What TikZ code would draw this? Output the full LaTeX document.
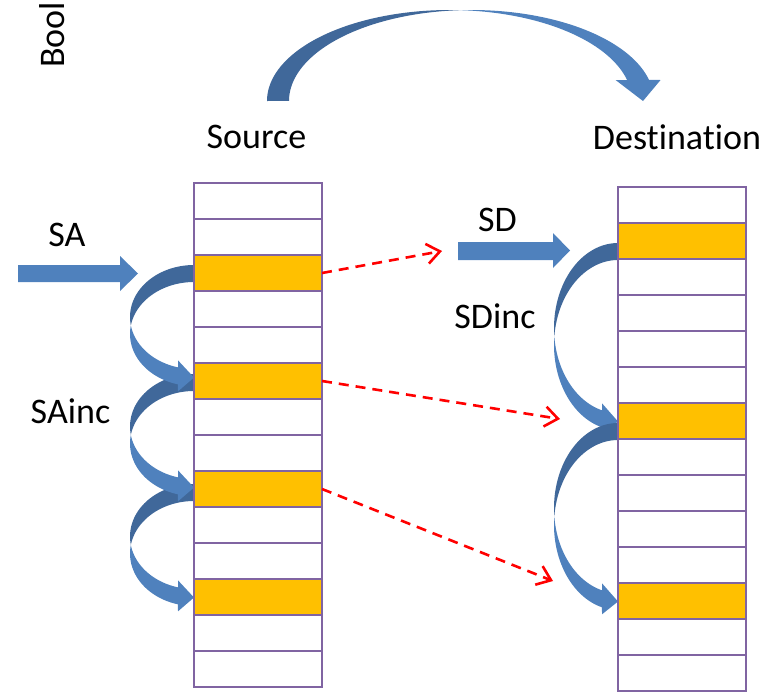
\documentclass[tikz,border=0pt]{standalone}
\usepackage{fontspec}
\setmainfont{Carlito}[Ligatures=NoCommon]
\usetikzlibrary{arrows.meta}

\definecolor{cellline}{RGB}{128,100,162}
\definecolor{hlorange}{RGB}{255,192,0}
\definecolor{blockblue}{RGB}{79,129,189}
\definecolor{blockdark}{RGB}{64,104,154}
\definecolor{linkred}{RGB}{255,0,0}

% Ribbon arrow that leaves a cell to the left and loops back down into a lower cell.
% #1 right x, #2 top y, #3 width, #4 height, #5 band, #6 head width, #7 head length
\newcommand\loopdown[7]{%
  \pgfmathsetmacro\lpR{#4/2-(#5+#6)/4}%
  \pgfmathsetmacro\lpCa{#2+\lpR}%
  \pgfmathsetmacro\lpCb{#2+\lpR+#5}%
  \pgfmathsetmacro\lpAl{asin(#5/(2*\lpR))}%
  \pgfmathsetmacro\lpBe{acos(#7/#3)}%
  \pgfmathsetmacro\lpX{#1-#7}%
  \pgfmathsetmacro\lpYa{\lpCa+\lpR*sin(\lpBe)}%
  \pgfmathsetmacro\lpYb{\lpCb+\lpR*sin(\lpBe)}%
  \pgfmathsetmacro\lpD{(#6-#5)/2}%
  \pgfmathsetmacro\lpTip{#2+#4-#6/2}%
  \fill[blockdark]
    plot[domain=0:1,samples=40,variable=\u]
      ({#1+#3*cos(270-(90+\lpAl)*\u)},{\lpCa+\lpR*sin(270-(90+\lpAl)*\u)})
    -- plot[domain=0:1,samples=40,variable=\u]
      ({#1+#3*cos(180+\lpAl+(90-\lpAl)*\u)},{\lpCb+\lpR*sin(180+\lpAl+(90-\lpAl)*\u)})
    -- cycle;
  \fill[blockblue]
    plot[domain=0:1,samples=40,variable=\u]
      ({#1+#3*cos(180+\lpAl-(\lpAl+\lpBe)*\u)},{\lpCb+\lpR*sin(180+\lpAl-(\lpAl+\lpBe)*\u)})
    -- ({\lpX},{\lpYb+\lpD}) -- ({#1},{\lpTip}) -- ({\lpX},{\lpYa-\lpD}) -- ({\lpX},{\lpYa})
    -- plot[domain=0:1,samples=40,variable=\u]
      ({#1+#3*cos(180-\lpBe+(\lpBe-\lpAl)*\u)},{\lpCa+\lpR*sin(180-\lpBe+(\lpBe-\lpAl)*\u)})
    -- cycle;
}

% Ribbon arrow arching over from left to right.
% #1 left x, #2 bottom y, #3 width, #4 height, #5 band, #6 head width, #7 head length
\newcommand\archright[7]{%
  \pgfmathsetmacro\arR{#3/2-(#5+#6)/4}%
  \pgfmathsetmacro\arCa{#1+\arR}%
  \pgfmathsetmacro\arCb{#1+\arR+#5}%
  \pgfmathsetmacro\arAl{asin(#5/(2*\arR))}%
  \pgfmathsetmacro\arGa{asin(#7/#4)}%
  \pgfmathsetmacro\arY{#2-#7}%
  \pgfmathsetmacro\arXa{\arCa+\arR*cos(\arGa)}%
  \pgfmathsetmacro\arXb{\arCb+\arR*cos(\arGa)}%
  \pgfmathsetmacro\arD{(#6-#5)/2}%
  \pgfmathsetmacro\arTip{#1+#3-#6/2}%
  \fill[blockdark]
    plot[domain=0:1,samples=60,variable=\u]
      ({\arCa+\arR*cos(180+(90+\arAl)*\u)},{#2+#4*sin(180+(90+\arAl)*\u)})
    -- plot[domain=0:1,samples=60,variable=\u]
      ({\arCb+\arR*cos(270-\arAl-(90-\arAl)*\u)},{#2+#4*sin(270-\arAl-(90-\arAl)*\u)})
    -- cycle;
  \fill[blockblue]
    plot[domain=0:1,samples=60,variable=\u]
      ({\arCb+\arR*cos(270-\arAl+(90+\arAl-\arGa)*\u)},{#2+#4*sin(270-\arAl+(90+\arAl-\arGa)*\u)})
    -- ({\arXb+\arD},{\arY}) -- ({\arTip},{#2}) -- ({\arXa-\arD},{\arY}) -- ({\arXa},{\arY})
    -- plot[domain=0:1,samples=60,variable=\u]
      ({\arCa+\arR*cos(360-\arGa-(90-\arGa-\arAl)*\u)},{#2+#4*sin(360-\arGa-(90-\arGa-\arAl)*\u)})
    -- cycle;
}

\tikzset{
  cell/.style={draw=cellline, line width=2.8pt, minimum width=128pt, minimum height=36pt,
               inner sep=0pt, outer sep=0pt},
  lbl/.style={font=\fontsize{36}{40}\selectfont, inner sep=0pt, anchor=base},
  link/.style={draw=linkred, line width=2.6pt, dash pattern=on 10pt off 7pt,
               -{Straight Barb[length=13pt,width=20pt]}},
}

\begin{document}
\begin{tikzpicture}[x=1pt, y=-1pt]
\path[use as bounding box] (0,0) rectangle (771,694);

% copy arrow from source to destination
\archright{267}{101}{398.5}{91}{22}{45}{21}

% increments along the source
\loopdown{194}{484}{64}{129}{17}{31}{16}
\loopdown{194}{374}{64}{129}{17}{31}{16}
\loopdown{194}{265}{64}{128}{17}{31}{16}

% increments along the destination
\loopdown{618}{243}{64}{194}{17}{31}{16}
\loopdown{618}{423}{64}{194}{17}{31}{16}

% source cells
\foreach \k/\c in {0/white,1/white,2/hlorange,3/white,4/white,5/hlorange,6/white,
                   7/white,8/hlorange,9/white,10/white,11/hlorange,12/white,13/white}
  \node[cell, fill=\c] (s\k) at (258, {201+36*\k}) {};

% destination cells
\foreach \k/\c in {0/white,1/hlorange,2/white,3/white,4/white,5/white,6/hlorange,
                   7/white,8/white,9/white,10/white,11/hlorange,12/white,13/white}
  \node[cell, fill=\c] (d\k) at (682, {205+36*\k}) {};

% start address pointers
\fill[blockblue] (18,265) -- (120,265) -- (120,256) -- (138,273.5) -- (120,291)
  -- (120,282) -- (18,282) -- cycle;
\fill[blockblue] (458,242) -- (553,242) -- (553,233) -- (570,250.5) -- (553,268)
  -- (553,260) -- (458,260) -- cycle;

% element transfers
\coordinate (e1) at (442,251);
\coordinate (e2) at (560,419);
\coordinate (e3) at (553,581);
\draw[link] (s2.east) -- (e1);
\draw[link] (s5.east) -- (e2);
\draw[link] (s8.east) -- (e3);

% labels
\node[lbl] (tsrc) at (256.5,148) {Source};
\node[lbl] (tdst) at (677,149.5) {Destination};
\node[lbl] (tsa) at (67,246) {SA};
\node[lbl] (tsainc) at (70.5,423) {SAinc};
\node[lbl] (tsd) at (497.5,231) {SD};
\node[lbl] (tsdinc) at (495,328) {SDinc};
\node[lbl, rotate=90, anchor=base west] (tbool) at (64.5,68) {Bool};
\end{tikzpicture}
\end{document}
